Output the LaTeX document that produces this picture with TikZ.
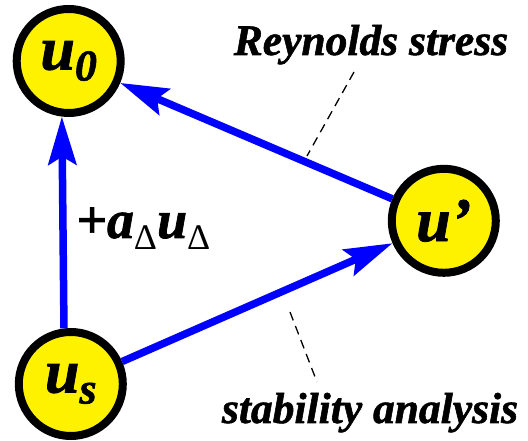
\documentclass[tikz,border=0pt]{standalone}
\usepackage{fontspec}
\setmainfont{Liberation Serif}[BoldItalicFeatures={FakeBold=1.3}]
\usetikzlibrary{arrows.meta}

\newcommand{\statesub}[1]{\raisebox{-11pt}{\fontsize{44}{44}\selectfont #1}}
\newcommand{\deltasub}{\raisebox{-12pt}{\fontsize{36}{36}\selectfont\mdseries\upshape Δ}}

\begin{document}
\begin{tikzpicture}[x=1pt,y=1pt,
  state/.style={circle,draw,line width=8pt,fill=yellow,minimum size=104pt,inner sep=0pt,
    font=\bfseries\itshape\fontsize{62}{62}\selectfont},
  flow/.style={draw=blue,line width=7.5pt,-{Stealth[length=48pt,width=28pt,inset=8pt]}},
  guide/.style={line width=1.3pt,dash pattern=on 9pt off 6pt},
  every node/.append style={font=\bfseries\itshape\fontsize{43.5}{44}\selectfont}
]
  \useasboundingbox (0,0) rectangle (528,441);
  \node[state] (u0) at (68.7,380) {u\statesub{0}};
  \node[state] (us) at (70.8,57) {u\statesub{s}};
  \node[state] (up) at (443.8,220.2) {u’};
  \node[anchor=base,inner sep=0pt] (reynolds) at (371,386) {Reynolds stress};
  \node[anchor=base,inner sep=0pt] (stability) at (370,18) {stability analysis};
  \node[anchor=base west,inner sep=0pt,font=\bfseries\itshape\fontsize{54}{54}\selectfont]
    (gain) at (76,203) {+a\deltasub u\deltasub};
  \coordinate (reyA) at (354,369);
  \coordinate (reyB) at (307,285);
  \coordinate (stabA) at (290,129);
  \coordinate (stabB) at (317,59);
  \draw[guide] (reyA) -- (reyB);
  \draw[guide] (stabA) -- (stabB);
  \draw[flow] (us.97) -- (u0.263);
  \draw[flow] (up) -- (u0);
  \draw[flow] (us) -- (up);
\end{tikzpicture}
\end{document}
